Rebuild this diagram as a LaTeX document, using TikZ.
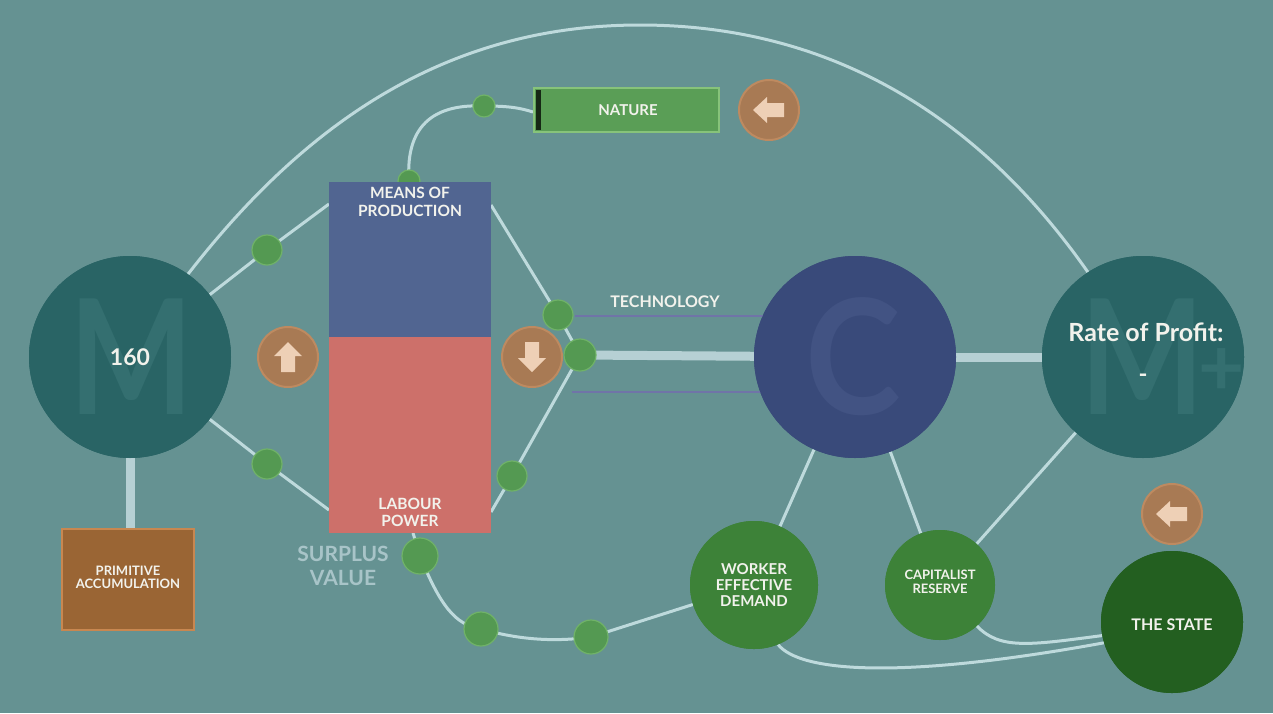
\documentclass[tikz,border=0pt]{standalone}
\usepackage{fontspec}
\setmainfont{Lato}
\usetikzlibrary{shapes.geometric}
\definecolor{bg}{RGB}{101,146,146}
\definecolor{tealc}{RGB}{41,100,101}
\definecolor{tealwm}{RGB}{52,111,112}
\definecolor{navy}{RGB}{57,74,122}
\definecolor{navywm}{RGB}{66,83,131}
\definecolor{mopc}{RGB}{81,101,145}
\definecolor{lpc}{RGB}{205,112,106}
\definecolor{linec}{RGB}{190,218,220}
\definecolor{thickc}{RGB}{182,208,212}
\definecolor{dotc}{RGB}{84,153,82}
\definecolor{dotb}{RGB}{112,178,104}
\definecolor{brownc}{RGB}{168,122,84}
\definecolor{brownb}{RGB}{190,138,96}
\definecolor{arrowc}{RGB}{238,208,182}
\definecolor{natc}{RGB}{90,158,86}
\definecolor{natb}{RGB}{135,195,122}
\definecolor{primc}{RGB}{154,101,52}
\definecolor{primb}{RGB}{200,135,80}
\definecolor{greenc}{RGB}{61,130,56}
\definecolor{statec}{RGB}{35,95,32}
\definecolor{techc}{RGB}{112,116,168}
\definecolor{svc}{RGB}{168,196,200}
\definecolor{txt}{RGB}{242,242,236}
\newcommand{\fs}[1]{\fontsize{#1}{#1}\selectfont}
\tikzset{
  bigc/.style={circle, minimum size=202pt, inner sep=0pt, fill=tealc},
  dotn/.style={circle, minimum size=#1, inner sep=0pt, fill=dotc, draw=dotb, line width=1.2pt},
  dotn/.default=30pt,
  btn/.style={circle, minimum size=60pt, inner sep=0pt, fill=brownc, draw=brownb, line width=2pt},
  conn/.style={draw=linec, line width=3pt},
  thickconn/.style={draw=thickc, line width=9pt},
  lbl/.style={text=txt, font=\bfseries\fs{15}, align=center, inner sep=0pt},
  wm/.style={inner sep=0pt, font=\bfseries\fs{160}, xscale=0.82}
}
\begin{document}
\begin{tikzpicture}[x=1pt,y=-1pt]
\useasboundingbox (0,0) rectangle (1273,713);
\fill[bg] (0,0) rectangle (1273,713);

% main nodes (positions)
\node[bigc] (M) at (130,357) {};
\node[bigc, fill=navy] (C) at (855,357) {};
\node[bigc] (Mp) at (1143,357) {};
\node[circle, minimum size=128pt, inner sep=0pt, fill=greenc] (W) at (754,585) {};
\node[circle, minimum size=110pt, inner sep=0pt, fill=greenc] (Cap) at (940,585) {};
\node[circle, minimum size=142pt, inner sep=0pt, fill=statec] (S) at (1172,622) {};

% coordinates
\coordinate (top) at (640,25);
\coordinate (mopL) at (329,204);
\coordinate (lpL) at (329,510);
\coordinate (mopR) at (491,205);
\coordinate (lpR) at (491,512);
\coordinate (lpB) at (413,533);
\coordinate (t1a) at (575,316);
\coordinate (t1b) at (800,316);
\coordinate (t2a) at (572,392);
\coordinate (t2b) at (800,392);

\path (267,250) coordinate (d1) (267,464) coordinate (d2)
      (558,315) coordinate (d3) (580,355) coordinate (J)
      (512,476) coordinate (d4) (420,556) coordinate (d5)
      (481,629) coordinate (d6) (591,637) coordinate (d7)
      (409,181) coordinate (dT) (484,106) coordinate (dN);

% connectors
\draw[conn] (M.55) .. controls (300,130) and (440,25) .. (top)
            .. controls (840,25) and (985,125) .. (Mp.123);
\draw[conn] (M) -- (d1) -- (mopL);
\draw[conn] (M) -- (d2) -- (lpL);
\draw[conn] (mopR) -- (d3) -- (J);
\draw[conn] (lpR) -- (d4) -- (J);
\draw[conn] (dT) .. controls (405,120) and (440,104) .. (dN) .. controls (510,106) and (520,108) .. (533,112);
\draw[conn] (lpB) -- (d5) .. controls (440,605) and (455,625) .. (d6)
            .. controls (520,640) and (555,642) .. (d7) -- (W);
\draw[thickconn] (J) -- (C);
\draw[thickconn] (C) -- (Mp);
\draw[thickconn] (M) -- (130,528);
\draw[draw=techc, line width=2.5pt] (t1a) -- (t1b);
\draw[draw=techc, line width=2.5pt] (t2a) -- (t2b);
\draw[conn] (C) -- (W);
\draw[conn] (C) -- (Cap);
\draw[conn] (Cap) -- (Mp);
\draw[conn] (Cap.-48) .. controls (1000,650) and (1030,645) .. (S.191);
\draw[conn] (W.-68) .. controls (800,672) and (900,680) .. (S.197);

% dot behind MoP
\node[dotn=22pt] (dTn) at (dT) {};

% circles on top of connectors
\node[bigc] at (M) {};
\node[bigc, fill=navy] at (C) {};
\node[bigc] at (Mp) {};
\node[circle, minimum size=128pt, inner sep=0pt, fill=greenc] at (W) {};
\node[circle, minimum size=110pt, inner sep=0pt, fill=greenc] at (Cap) {};
\node[circle, minimum size=142pt, inner sep=0pt, fill=statec] at (S) {};

% watermarks, clipped to their circles
\begin{scope}
\clip (130,357) circle[radius=101pt];
\node[wm, text=tealwm] (Mwm) at (131,357) {M};
\end{scope}
\begin{scope}
\clip (855,357) circle[radius=101pt];
\node[wm, text=navywm, xscale=1.1] (Cwm) at (853,357) {C};
\end{scope}
\begin{scope}
\clip (1143,357) circle[radius=101pt];
\node[wm, text=tealwm] (Mpwm) at (1142,357) {M};
\node[inner sep=0pt, text=tealwm, font=\bfseries\fs{80}] (plus) at (1222,372) {+};
\end{scope}

% boxes
\fill[mopc] (329,182) rectangle (491,337);
\fill[lpc] (329,337) rectangle (491,533);
\node[lbl, font=\bfseries\fs{15.5}, anchor=north] (mopt) at (410,187) {MEANS OF\\[2pt]PRODUCTION};
\node[lbl, font=\bfseries\fs{15.5}, anchor=south] (lpt) at (410,527) {LABOUR\\[2pt]POWER};

\node[draw=primb, line width=2pt, fill=primc, minimum width=132pt, minimum height=101pt, inner sep=0pt] (prim) at (128,579.5) {};
\node[lbl, font=\bfseries\fs{13}] at (128,577) {PRIMITIVE\\ACCUMULATION};

\node[draw=natb, line width=2pt, fill=natc, minimum width=185pt, minimum height=44pt, inner sep=0pt] (nat) at (626.5,110) {};
\fill[black!75!natc] (536,90) rectangle (541,130);
\node[lbl] at (628,110) {NATURE};

% dots
\node[dotn=22pt] (dNn) at (dN) {};
\node[dotn] (d1n) at (d1) {};
\node[dotn] (d2n) at (d2) {};
\node[dotn] (d3n) at (d3) {};
\node[dotn=32pt] (Jn) at (J) {};
\node[dotn] (d4n) at (d4) {};
\node[dotn=36pt] (d5n) at (d5) {};
\node[dotn=34pt] (d6n) at (d6) {};
\node[dotn=34pt] (d7n) at (d7) {};

% buttons
\node[btn] (bU) at (288,357) {};
\node[btn] (bD) at (532,357) {};
\node[btn] (bN) at (769,110) {};
\node[btn] (bS) at (1172,514) {};
\fill[arrowc, shift={(bU.center)}] (0,-15) -- (14,-1) -- (7,-1) -- (7,15) -- (-7,15) -- (-7,-1) -- (-14,-1) -- cycle;
\fill[arrowc, shift={(bD.center)}] (0,15) -- (14,1) -- (7,1) -- (7,-15) -- (-7,-15) -- (-7,1) -- (-14,1) -- cycle;
\fill[arrowc, shift={(bN.center)}] (-16,0) -- (-2,-13) -- (-2,-7) -- (15,-7) -- (15,7) -- (-2,7) -- (-2,13) -- cycle;
\fill[arrowc, shift={(bS.center)}] (-16,0) -- (-2,-13) -- (-2,-7) -- (15,-7) -- (15,7) -- (-2,7) -- (-2,13) -- cycle;

% texts
\node[lbl, font=\bfseries\fs{23}] (t160) at (130,357) {160};
\node[lbl, font=\bfseries\fs{25}] (rop) at (1146,332) {Rate of Profit:};
\node[lbl, font=\bfseries\fs{24}] (dash) at (1143,378) {-};
\node[lbl, font=\bfseries\fs{16}] (tech) at (665,302) {TECHNOLOGY};
\node[lbl, font=\bfseries\fs{21}, text=svc] (sv) at (343,566) {SURPLUS\\[3pt]VALUE};
\node[lbl, font=\bfseries\fs{15}] (wt) at (754,585) {WORKER\\[1pt]EFFECTIVE\\[1pt]DEMAND};
\node[lbl, font=\bfseries\fs{13}] (ct) at (940,582) {CAPITALIST\\[1pt]RESERVE};
\node[lbl, font=\bfseries\fs{16}] (st) at (1172,625) {THE STATE};
\end{tikzpicture}
\end{document}
